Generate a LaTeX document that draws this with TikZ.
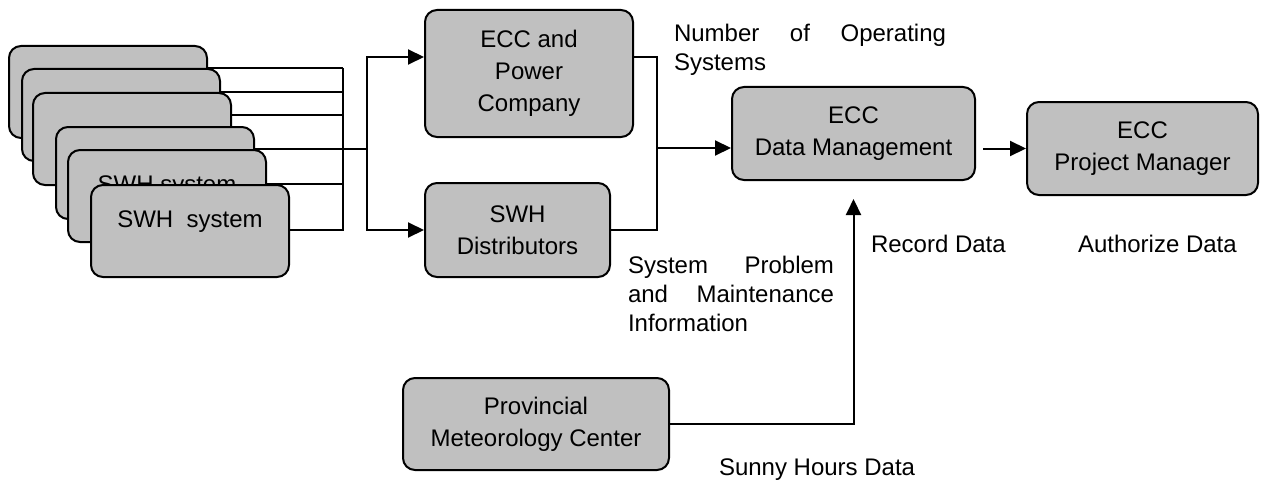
\documentclass[tikz,border=0pt]{standalone}
\usepackage{fontspec}
\setmainfont{Liberation Sans}
\usetikzlibrary{arrows.meta,calc}
\definecolor{boxgray}{HTML}{C0C0C0}
\setlength{\parindent}{0pt}
\hyphenpenalty=10000
\tolerance=9999
\begin{document}
\begin{tikzpicture}[x=0.5pt,y=-0.5pt,line width=1pt,>={Triangle[length=8pt,width=7.5pt]},
  blk/.style={draw,fill=boxgray,rounded corners=6pt,font=\fontsize{12}{16}\selectfont},
  unit/.style={blk,align=center,inner sep=0pt},
  swh/.style={blk,anchor=north west,minimum width=99pt,inner ysep=0pt,text height=21pt,text depth=25pt},
  lbl/.style={inner sep=0pt,font=\fontsize{12}{14.5}\selectfont}]
    \useasboundingbox (0,0) rectangle (1261,481);
    % stack of solar water heater systems
    \node[swh] (sys1) at (8,45) {};
    \node[swh] (sys2) at (21,68) {};
    \node[swh] (sys3) at (32,92) {};
    \node[swh] (sys4) at (55,126) {};
    \node[swh] (sys5) at (67,149) {SWH system};
    \node[swh] (sys6) at (90,184) {SWH~~system};
    \node[unit,minimum width=104pt,minimum height=63.5pt] (ecc) at (529,73.5) {ECC and\\Power\\Company};
    \node[unit,minimum width=92.5pt,minimum height=47pt] (dist) at (517.5,230) {SWH\\Distributors};
    \node[unit,minimum width=121.5pt,minimum height=46.5pt] (dm) at (853.5,133.5) {ECC\\Data Management};
    \node[unit,minimum width=115.5pt,minimum height=46.5pt] (pm) at (1142.5,148.5) {ECC\\Project Manager};
    \node[unit,minimum width=133pt,minimum height=46pt] (pmc) at (536,424) {Provincial\\Meteorology Center};
    \coordinate (bus) at (343,149);
    \coordinate (split) at (367,149);
    \coordinate (merge) at (657,148);
    \foreach \s/\d in {sys1/23,sys2/24,sys3/23,sys4/23,sys5/35,sys6/46}
        \draw ($(\s.north east)+(0,\d)$) coordinate (tap) -- (tap -| bus);
    \draw (bus |- sys2.north) -- (bus |- sys6.east);
    \draw (bus) -- (split);
    \draw[->] (split) |- ($(ecc.west)+(0,-16.5)$);
    \draw[->] (split) |- (dist.west);
    \draw ($(ecc.east)+(0,-16.5)$) -| (merge |- dist.east) -- (dist.east);
    \draw[->] (merge) -- (merge -| dm.west);
    \draw[->,shorten <=3.5pt] (dm.east |- pm.west) -- (pm.west);
    \draw[->,shorten >=9pt] (pmc.east) -| (dm.south);
    % labels
    \node[lbl,text width=136pt,align=justify,anchor=north west] (nops) at (673,23) {Number of Operating Systems};
    \node[lbl,text width=103pt,align=justify,anchor=north west] (probinfo) at (627,255) {System Problem and Maintenance Information};
    \node[lbl,anchor=base west] (rec) at (870,252) {Record Data};
    \node[lbl,anchor=base west] (auth) at (1077,252) {Authorize Data};
    \node[lbl,anchor=base west] (sunny) at (718,475) {Sunny Hours Data};
    %\node[lbl] at (dm.north) {};
\end{tikzpicture}
\end{document}
